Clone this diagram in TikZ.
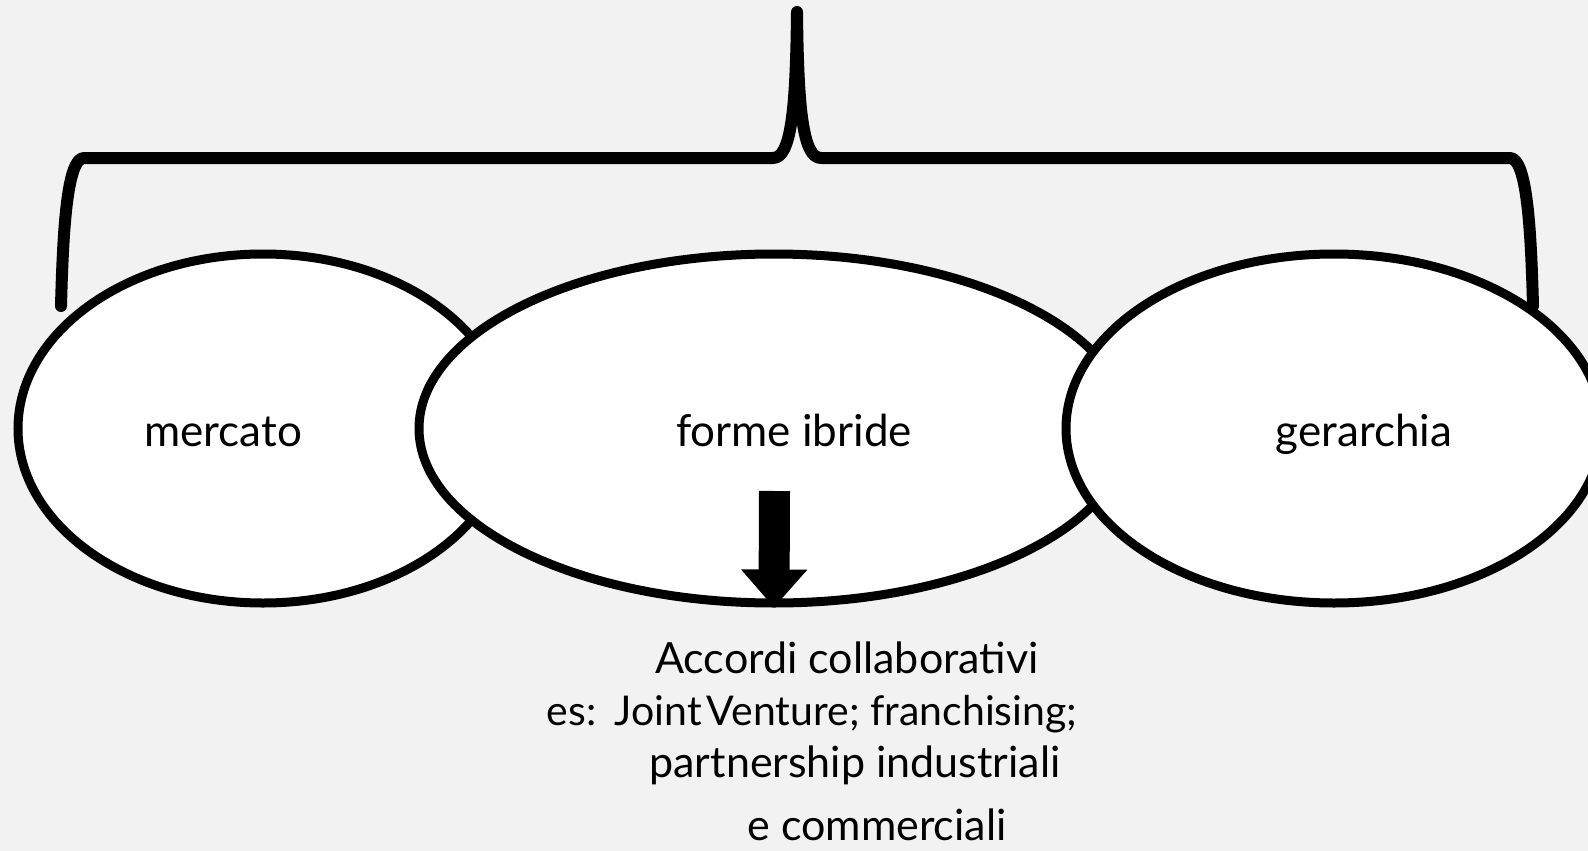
\documentclass[tikz,border=0pt]{standalone}
\usepackage{fontspec}
\setmainfont{Lato}
\usetikzlibrary{arrows.meta,shapes.geometric}

\definecolor{sfondo}{HTML}{F2F2F2}

\tikzset{
  forma/.style={ellipse, draw=black, fill=white, line width=9pt, inner sep=0pt,
    minimum height=349pt},
  etichetta/.style={font=\fontsize{44}{52}\selectfont, inner sep=0pt, anchor=base},
  riga/.style={font=\fontsize{43}{50}\selectfont, inner sep=0pt, anchor=base},
  graffa/.style={line width=12pt, line cap=round, line join=round},
  freccia/.style={line width=31pt, -{Triangle[width=64pt,length=38pt]}}
}

\begin{document}
\begin{tikzpicture}[x=1pt,y=-1pt]
  \useasboundingbox (0,0) rectangle (1588,851);
  \fill[sfondo] (0,0) rectangle (1588,851);

  % le tre forme
  \node[forma, minimum width=490pt] (mercato) at (263,428.5) {};
  \node[forma, minimum width=710pt] (ibride) at (774,428.5) {};
  \node[forma, minimum width=536pt] (gerarchia) at (1334,428.5) {};

  \node[etichetta] (tmercato) at (223,446) {mercato};
  \node[etichetta] (tibride) at (794,446) {forme ibride};
  \node[etichetta] (tgerarchia) at (1364,446) {gerarchia};

  % graffa
  \coordinate (gsx) at (61,306);
  \coordinate (gdx) at (1533,306);
  \coordinate (punta) at (797,12);
  \draw[graffa] (gsx) .. controls (63,230) and (67,158) .. (84,158)
    -- (773,158) .. controls (791,158) and (796,110) .. (punta)
    .. controls (798,110) and (803,158) .. (821,158)
    -- (1510,158) .. controls (1527,158) and (1531,230) .. (gdx);

  % freccia
  \coordinate (fcima) at (774.5,491);
  \draw[freccia] (fcima) -- (ibride.south);

  % testo sotto
  \node[riga] (acc1) at (847,673) {Accordi collaborativi};
  \node[riga, font=\fontsize{41}{50}\selectfont] (acc2) at (812,725)
    {es:\hspace{0.45em}Joint\hspace{0.12em}Venture; franchising;};
  \node[riga] (acc3) at (855,777) {partnership industriali};
  \node[riga] (acc4) at (877,840) {e commerciali};
\end{tikzpicture}
\end{document}
